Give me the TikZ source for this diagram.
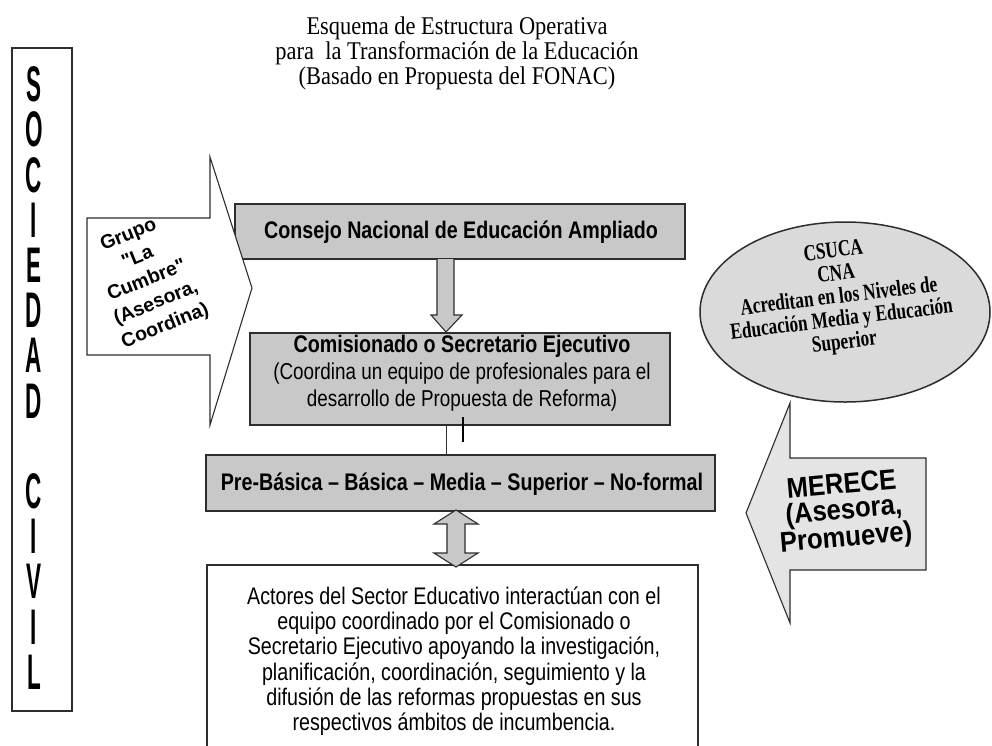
\documentclass[tikz,border=0pt]{standalone}
\usepackage{fontspec}
\setmainfont{Liberation Serif}
\newfontfamily\narrowsans{Liberation Sans}[FakeStretch=0.82]
\newfontfamily\tallsans{Liberation Sans}[FakeStretch=0.45]
\newfontfamily\titlefont{Liberation Serif}[FakeStretch=0.88]
\newfontfamily\grupofont{Liberation Sans}
\newfontfamily\merecefont{Liberation Sans}[FakeStretch=0.9]
\newfontfamily\ellfont{Liberation Serif}[FakeStretch=0.75]
\usetikzlibrary{calc}
\definecolor{boxgray}{RGB}{200,200,200}
\definecolor{ellgray}{RGB}{218,218,218}
\definecolor{arrgray}{RGB}{228,228,228}
\definecolor{edge}{RGB}{45,45,45}
\tikzset{
  graybox/.style={draw=edge, line width=1.8pt, fill=boxgray, inner sep=0pt},
  whitebox/.style={draw=edge, line width=1.6pt, fill=white, inner sep=0pt},
  blockarrow/.style={draw=edge, line width=1.1pt, line join=miter},
  txt/.style={inner sep=0pt, align=center, text=black},
}
\begin{document}
\begin{tikzpicture}[x=1pt,y=-1pt]
\useasboundingbox (0,0) rectangle (992,745);
\fill[white] (0,0) rectangle (992,745);

% title
\node[txt, font=\titlefont\fontsize{25.5}{25}\selectfont] (title) at (457,53)
  {Esquema de Estructura Operativa\\para\ \ la Transformación de la Educación\\(Basado en Propuesta del FONAC)};

% Sociedad civil
\node[whitebox, line width=1.4pt, minimum width=60pt, minimum height=663pt] (soc) at (42,379.5) {};
\node[txt, font=\tallsans\bfseries\fontsize{50}{45.2}\selectfont] (soctext) at (34,378)
  {S\\O\\C\\I\\E\\D\\A\\D\\~\\C\\I\\V\\I\\L};

% main boxes
\node[graybox, minimum width=450pt, minimum height=55pt] (consejo) at (460,231.5) {};
\node[txt, font=\narrowsans\bfseries\fontsize{24}{27}\selectfont] at (461,232) {Consejo Nacional de Educación Ampliado};

\node[graybox, minimum width=420pt, minimum height=92pt] (comis) at (460,379) {};
\node[txt, font=\narrowsans\fontsize{23}{27}\selectfont] (comistext) at (462,373)
  {{\fontsize{24}{27}\selectfont\bfseries Comisionado o Secretario Ejecutivo}\\(Coordina un equipo de profesionales para el\\desarrollo de Propuesta de Reforma)};

\node[graybox, minimum width=509pt, minimum height=56pt] (pre) at (460.5,483) {};
\node[txt, font=\narrowsans\bfseries\fontsize{24}{27}\selectfont] at (462,484) {Pre-Básica – Básica – Media – Superior – No-formal};

\node[whitebox, minimum width=491pt, minimum height=195pt] (actores) at (452.5,662.5) {};
\node[txt, font=\narrowsans\fontsize{24}{25.3}\selectfont] (actorestext) at (454,661)
  {Actores del Sector Educativo interactúan con el\\equipo coordinado por el Comisionado o\\Secretario Ejecutivo apoyando la investigación,\\planificación, coordinación, seguimiento y la\\difusión de las reformas propuestas en sus\\respectivos ámbitos de incumbencia.};

% Grupo La Cumbre arrow (on top of Consejo box)
\draw[blockarrow, fill=white] (87,218) -- (210,218) -- (210,157) -- (252,288) -- (210,425) -- (210,355) -- (87,355) -- cycle;
\node[txt, rotate=22, font=\grupofont\bfseries\fontsize{19.5}{24.5}\selectfont] (grupo) at (147,281)
  {Grupo\\"La\\Cumbre"\\(Asesora,\\Coordina)};

% down arrow Consejo -> Comisionado
\draw[blockarrow, fill=boxgray] (437,259) -- (437,315) -- (431,315) -- (446,332) -- (462,315) -- (454,315) -- (454,259);

% connector Comisionado -> Pre
\draw[edge, line width=1pt] ([xshift=-14pt]comis.south) -- ([xshift=-14pt]comis.south |- pre.north);
\draw[black, line width=2.2pt] (463,417) -- (463,442);

% double arrow Pre <-> Actores
\draw[blockarrow, fill=boxgray] (456,510) -- (478,524) -- (465,524) -- (465,553) -- (478,553) -- (456,567)
  -- (434,553) -- (447,553) -- (447,524) -- (434,524) -- cycle;

% CSUCA ellipse
\fill[ellgray, draw=edge, line width=1.5pt] (845,312) ellipse [x radius=145, y radius=90];
\node[txt, rotate=7, font=\ellfont\bfseries\fontsize{23}{23}\selectfont] (csuca) at (839,298)
  {CSUCA\\CNA\\Acreditan en los Niveles de\\Educación Media y Educación\\Superior};

% MERECE arrow
\draw[blockarrow, fill=arrgray] (926,458) -- (790,458) -- (790,403) -- (746,513) -- (790,623) -- (790,570) -- (926,570) -- cycle;
\node[txt, rotate=5, font=\merecefont\bfseries\fontsize{28.5}{25.5}\selectfont] (merece) at (844,513)
  {MERECE\\(Asesora,\\Promueve)};
\end{tikzpicture}
\end{document}
